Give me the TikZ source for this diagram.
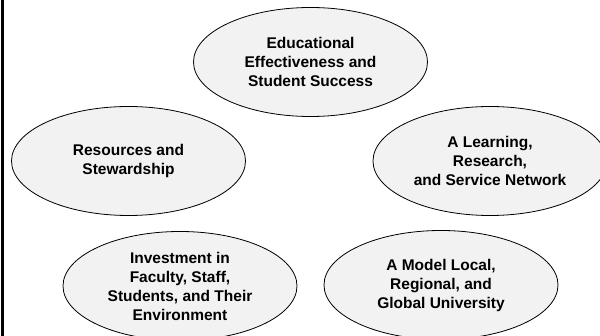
\documentclass[tikz,border=0pt]{standalone}
\usepackage{fontspec}
\setmainfont{Liberation Sans}
\usetikzlibrary{shapes.geometric}
\begin{document}
\begin{tikzpicture}[x=1pt,y=-1pt,
  goal/.style={ellipse, draw=black, line width=0.8pt, fill=gray!10, minimum width=234pt, minimum height=109pt, inner sep=0pt, align=center, font=\fontsize{15.5}{19}\selectfont\bfseries}]
\useasboundingbox (0,0) rectangle (600,336);
\clip (0,0) rectangle (600,336);
\fill[white] (0,0) rectangle (600,336);
\node[goal] (edu) at (310.5,62) {Educational\\Effectiveness and\\Student Success};
\node[goal] (res) at (128.5,161) {Resources and\\Stewardship};
\node[goal] (net) at (490,161) {A Learning,\\Research,\\and Service Network};
\node[goal] (inv) at (180,286) {Investment in\\Faculty, Staff,\\Students, and Their\\Environment};
\node[goal] (mod) at (441,285) {A Model Local,\\Regional, and\\Global University};
\coordinate (bt) at (2.6,0);
\coordinate (bb) at (2.6,336);
\draw[line width=2.6pt, black] (bt) -- (bb);
\end{tikzpicture}
\end{document}
